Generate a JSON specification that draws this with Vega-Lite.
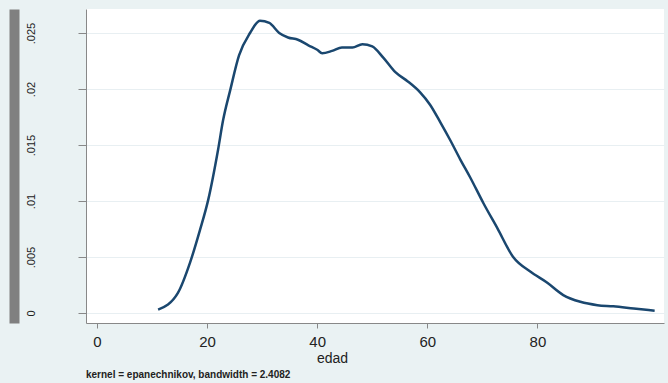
{
  "$schema": "https://vega.github.io/schema/vega-lite/v6.json",
  "width": 578,
  "height": 314,
  "padding": {"left": 14, "top": 9, "right": 4, "bottom": 4},
  "background": "#eaf2f3",
  "config": {
    "view": {"fill": "white", "stroke": null},
    "font": "Liberation Sans"
  },
  "title": {
    "text": "kernel = epanechnikov, bandwidth = 2.4082",
    "orient": "bottom",
    "anchor": "start",
    "frame": "group",
    "fontSize": 10,
    "fontWeight": "bold",
    "color": "#222222",
    "offset": 5
  },
  "data": {
    "values": [
      {"edad": 11.1, "density": 0.0003},
      {"edad": 14.7, "density": 0.0018},
      {"edad": 16.9, "density": 0.0045},
      {"edad": 18.7, "density": 0.0074},
      {"edad": 20.2, "density": 0.0101},
      {"edad": 22.0, "density": 0.0146},
      {"edad": 22.9, "density": 0.0172},
      {"edad": 24.2, "density": 0.0199},
      {"edad": 25.8, "density": 0.0230},
      {"edad": 27.8, "density": 0.0250},
      {"edad": 29.6, "density": 0.0261},
      {"edad": 31.3, "density": 0.0259},
      {"edad": 33.1, "density": 0.0250},
      {"edad": 34.7, "density": 0.0246},
      {"edad": 36.5, "density": 0.0244},
      {"edad": 38.4, "density": 0.0239},
      {"edad": 40.0, "density": 0.0235},
      {"edad": 40.9, "density": 0.0232},
      {"edad": 42.7, "density": 0.0234},
      {"edad": 44.5, "density": 0.0237},
      {"edad": 46.4, "density": 0.0237},
      {"edad": 48.2, "density": 0.0240},
      {"edad": 50.0, "density": 0.0238},
      {"edad": 52.0, "density": 0.0228},
      {"edad": 54.2, "density": 0.0215},
      {"edad": 56.4, "density": 0.0207},
      {"edad": 58.7, "density": 0.0197},
      {"edad": 60.5, "density": 0.0186},
      {"edad": 62.4, "density": 0.0170},
      {"edad": 64.2, "density": 0.0154},
      {"edad": 66.0, "density": 0.0137},
      {"edad": 67.8, "density": 0.0121},
      {"edad": 70.2, "density": 0.0098},
      {"edad": 72.7, "density": 0.0076},
      {"edad": 75.6, "density": 0.0050},
      {"edad": 78.7, "density": 0.0037},
      {"edad": 81.8, "density": 0.0027},
      {"edad": 84.7, "density": 0.0016},
      {"edad": 87.8, "density": 0.0010},
      {"edad": 90.9, "density": 0.0007},
      {"edad": 93.8, "density": 0.0006},
      {"edad": 97.5, "density": 0.0004},
      {"edad": 101.3, "density": 0.0002}
    ]
  },
  "layer": [
    {
      "mark": {"type": "line", "color": "#1a476f", "strokeWidth": 2.5, "interpolate": "monotone"},
      "encoding": {
        "x": {
          "field": "edad",
          "type": "quantitative",
          "scale": {"domain": [-2, 103], "nice": false, "zero": false},
          "axis": {
            "values": [0, 20, 40, 60, 80],
            "title": "edad",
            "titleFontSize": 14,
            "titleFontWeight": "normal",
            "titleColor": "#222222",
            "titlePadding": 2,
            "titleX": 246,
            "labelFontSize": 15,
            "labelColor": "#222222",
            "labelPadding": 6,
            "tickSize": 5,
            "tickColor": "#888888",
            "domainColor": "#888888",
            "grid": false
          }
        },
        "y": {
          "field": "density",
          "type": "quantitative",
          "scale": {"domain": [-0.000893, 0.027143], "nice": false, "zero": false},
          "axis": {
            "values": [0, 0.005, 0.01, 0.015, 0.02, 0.025],
            "labelExpr": "datum.value == 0 ? '0' : replace(format(datum.value, '.3~f'), '0.', '.')",
            "labelAngle": -90,
            "labelFontSize": 11,
            "labelColor": "#222222",
            "labelPadding": 42,
            "tickSize": 8,
            "tickColor": "#888888",
            "domainColor": "#888888",
            "grid": true,
            "gridColor": "#e8eff2",
            "gridWidth": 1,
            "title": null
          }
        }
      }
    },
    {
      "mark": {"type": "line", "opacity": 0},
      "encoding": {
        "x": {"field": "edad", "type": "quantitative"},
        "y": {
          "field": "density",
          "type": "quantitative",
          "axis": {
            "orient": "left",
            "labels": false,
            "ticks": false,
            "grid": false,
            "title": null,
            "domainColor": "#808080",
            "domainWidth": 10,
            "offset": 72
          }
        }
      }
    }
  ],
  "resolve": {"axis": {"y": "independent"}}
}
